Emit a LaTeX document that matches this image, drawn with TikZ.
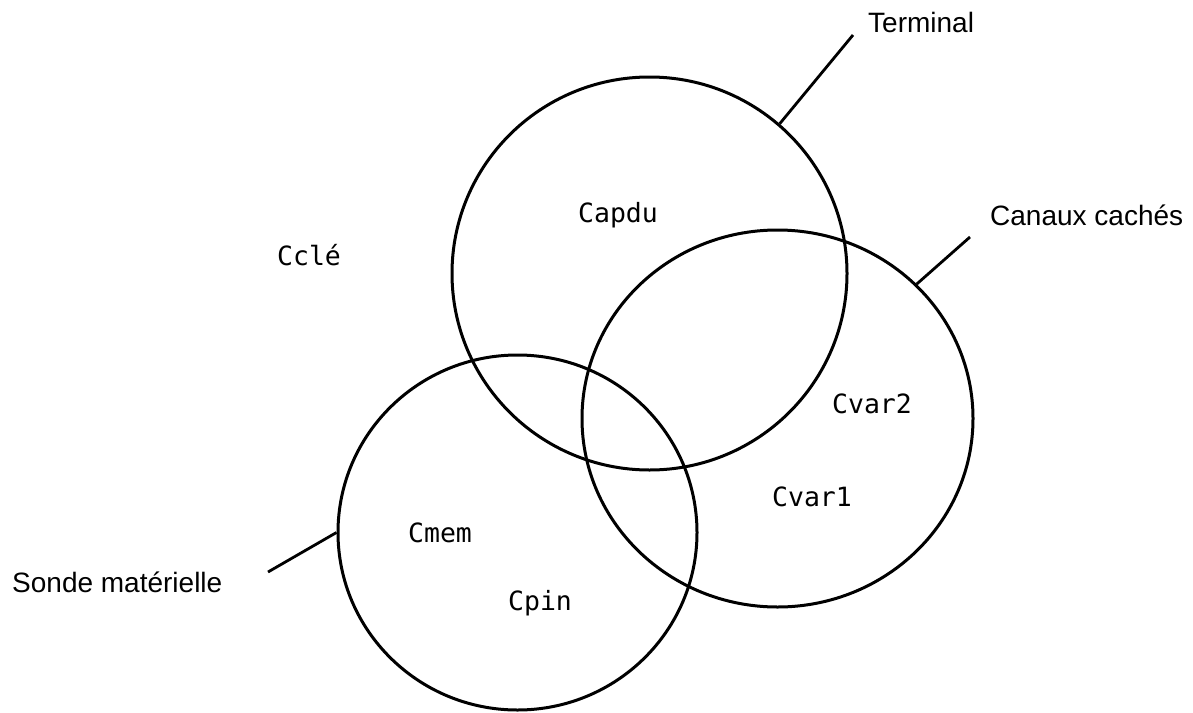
\documentclass[tikz,border=0pt]{standalone}
\usepackage{fontspec}
\setmainfont{Liberation Sans}
\setmonofont{DejaVu Sans Mono}
\usetikzlibrary{shapes.geometric}
\begin{document}
\begin{tikzpicture}[x=1pt,y=-1pt,
 setc/.style={ellipse, draw, line width=3pt, inner sep=0pt},
 lead/.style={line width=2.8pt},
 elem/.style={font=\fontsize{26.5}{31}\selectfont\ttfamily, inner sep=0pt, anchor=base},
 lbl/.style={font=\fontsize{28}{34}\selectfont, inner sep=0pt, anchor=base west}]
\useasboundingbox (0,0) rectangle (1193,712);
\node[setc, minimum width=395pt, minimum height=393pt] (c1) at (649.5,273.5) {};
\node[setc, minimum width=391pt, minimum height=377pt] (c2) at (777.5,418.5) {};
\node[setc, minimum width=359pt, minimum height=355pt] (c3) at (517.5,532.5) {};
\coordinate (t1) at (853,35);
\coordinate (t2) at (970,237);
\coordinate (t3) at (268,572);
\draw[lead] (c1.49.3) -- (t1);
\draw[lead] (c2.44) -- (t2);
\draw[lead] (c3.180.8) -- (t3);
\node[lbl] (lt) at (868,32) {Terminal};
\node[lbl] (lc) at (990,225) {Canaux cachés};
\node[lbl] (ls) at (12,592) {Sonde matérielle};
\node[elem] (capdu) at (618,222) {Capdu};
\node[elem] (ccle) at (309,265) {Cclé};
\node[elem] (cvar2) at (872,413) {Cvar2};
\node[elem] (cvar1) at (812,506) {Cvar1};
\node[elem] (cmem) at (440,542) {Cmem};
\node[elem] (cpin) at (540,610) {Cpin};
\end{tikzpicture}
\end{document}
